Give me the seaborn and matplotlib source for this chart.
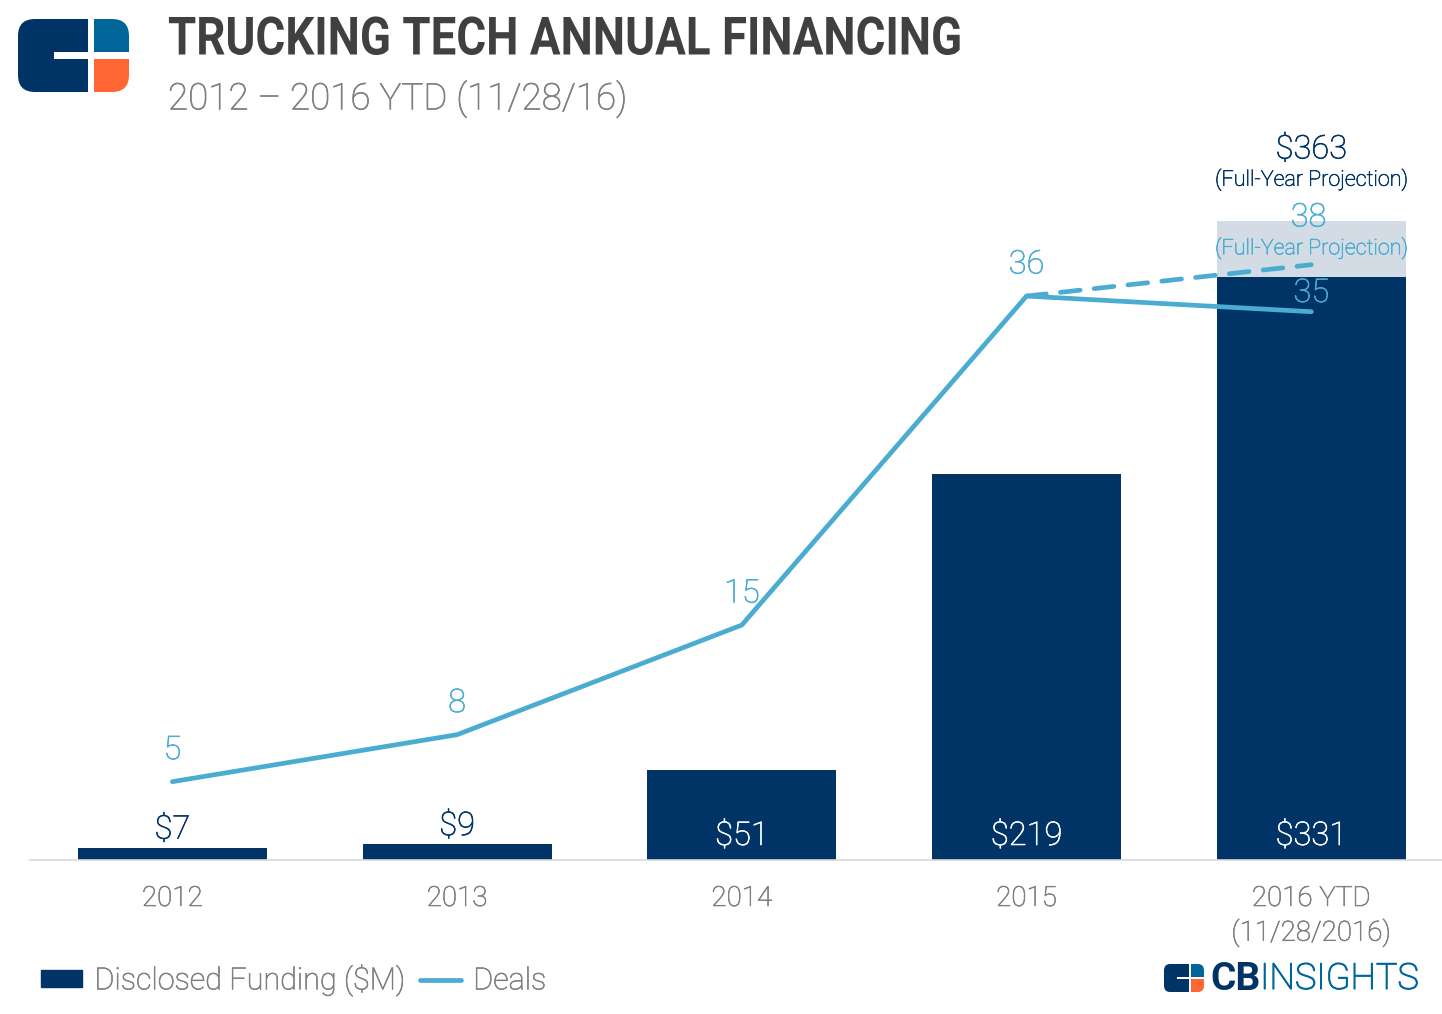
import numpy as np
import pandas as pd
import seaborn as sns
import matplotlib.pyplot as plt
import matplotlib.patheffects as pe
from matplotlib.lines import Line2D
from matplotlib.patches import FancyBboxPatch, Patch, Rectangle
from matplotlib.transforms import Affine2D

# data
years = ["2012", "2013", "2014", "2015", "2016 YTD\n(11/28/2016)"]
funding = [7, 9, 51, 219, 331]
funding_projected = [0, 0, 0, 0, 363]
deals = [5, 8, 15, 36, 35]
deals_projected_years = [3, 4]
deals_projected = [36, 38]
funding_labels = ["$7", "$9", "$51", "$219", "$331"]
deal_labels = ["5", "8", "15", "36", "35"]

NAVY = "#003366"
BLUE = "#4BACD2"
LIGHT = "#D3DBE4"
GRAY = "#7F7F7F"

sns.set_style("white")
plt.rcParams["font.family"] = ["Roboto", "DejaVu Sans"]

W, H = 1442, 1014
fig = plt.figure(figsize=(W / 100, H / 100), dpi=100)


def thicker(color, width=0.45):
    # Roboto Light comes out thinner than in the original, add a small stroke
    return [pe.withStroke(linewidth=width, foreground=color)]


class Squeeze(pe.AbstractPathEffect):
    # narrows a text horizontally, there is no condensed Roboto installed
    def __init__(self, x0, sx):
        super().__init__()
        self.x0 = x0
        self.sx = sx

    def draw_path(self, renderer, gc, tpath, affine, rgbFace=None):
        squeeze = Affine2D().translate(-self.x0, 0).scale(self.sx, 1).translate(self.x0, 0)
        renderer.draw_path(gc, tpath, affine + squeeze, rgbFace)


# axes in pixels: baseline at y=860, top at y=130
ax = fig.add_axes([30 / W, 1 - 860 / H, (W - 30) / W, 730 / H])

df = pd.DataFrame({"year": years, "funding": funding, "projected": funding_projected})
sns.barplot(data=df, x="year", y="projected", color=LIGHT, saturation=1, width=0.664, linewidth=0, ax=ax)
sns.barplot(data=df, x="year", y="funding", color=NAVY, saturation=1, width=0.664, linewidth=0, ax=ax)
ax.set_xlim(-0.5, 4.459)
ax.set_ylim(0, 414.5)
ax.set_xlabel("")
ax.set_ylabel("")
ax.set_yticks([])
ax.tick_params(axis="x", length=0, pad=18, labelsize=20, labelcolor=GRAY)
for lab in ax.get_xticklabels():
    lab.set_fontweight("light")
    lab.set_linespacing(1.3)
    lab.set_path_effects(thicker(GRAY))
for side in ["top", "left", "right"]:
    ax.spines[side].set_visible(False)
ax.spines["bottom"].set_color("#D9D9D9")
ax.spines["bottom"].set_linewidth(1.2)

# deals on a second axis
ax2 = ax.twinx()
ax2.set_ylim(0, 46.6)
ax2.set_yticks([])
ax2.axis("off")
sns.lineplot(x=deals_projected_years, y=deals_projected, color=BLUE, lw=3.4,
             dashes=(4.2, 3.0), ax=ax2, legend=False, dash_capstyle="round")
sns.lineplot(x=np.arange(5), y=deals, color=BLUE, lw=3.4, ax=ax2, legend=False,
             solid_capstyle="round")


# value labels
def label(axis, text, xy, offset, size, color):
    axis.annotate(text, xy, xytext=offset, textcoords="offset points", fontsize=size, color=color,
                  ha="center", va="center", fontweight="light", path_effects=thicker(color))


for i, lab in enumerate(funding_labels):
    if i < 2:
        label(ax, lab, (i, funding[i]), (0, 13), 23.5, NAVY)
    else:
        label(ax, lab, (i, 0), (0, 17.3), 23.5, "white")
for i, lab in enumerate(deal_labels):
    label(ax2, lab, (i, deals[i]), (0, 13.5 if i == 4 else 22.7), 23.5, BLUE)
label(ax, "$363", (4, funding_projected[4]), (0, 51.3), 23.5, NAVY)
label(ax, "(Full-Year Projection)", (4, funding_projected[4]), (0, 29.7), 15.5, NAVY)
label(ax2, "38", (4, deals_projected[1]), (-2, 34), 23.5, BLUE)
label(ax2, "(Full-Year Projection)", (4, deals_projected[1]), (0, 12), 15.5, BLUE)

# title
fig.text(168 / W, 1 - 40 / H, "TRUCKING TECH ANNUAL FINANCING", fontsize=38, color="#404040",
         fontweight="bold", va="center", ha="left", path_effects=[Squeeze(168, 0.865)])
fig.text(168 / W, 1 - 99 / H, "2012 – 2016 YTD (11/28/16)", fontsize=26.5, color=GRAY,
         fontweight="light", va="center", ha="left", path_effects=thicker(GRAY))

# legend
handles = [Patch(color=NAVY), Line2D([0], [0], color=BLUE, lw=3.4, solid_capstyle="round")]
leg = fig.legend(handles, ["Disclosed Funding ($M)", "Deals"], loc="center left",
                 bbox_to_anchor=(41 / W, 1 - 980 / H), ncol=2, frameon=False,
                 prop={"size": 22, "weight": "light"}, labelcolor=GRAY, borderpad=0, borderaxespad=0,
                 handlelength=1.35, handleheight=0.5, handletextpad=0.4, columnspacing=0.5)
for t in leg.get_texts():
    t.set_path_effects(thicker(GRAY))


def draw_logo(x, y, w, h):
    # logo on its own little axes, pixel box x,y,w,h
    lax = fig.add_axes([x / W, 1 - (y + h) / H, w / W, h / H])
    lax.set_xlim(0, 111)
    lax.set_ylim(73, 0)
    lax.axis("off")
    clip = FancyBboxPatch((0, 0), 111, 73, boxstyle="round,pad=0,rounding_size=17",
                          transform=lax.transData, fc="none", ec="none")
    lax.add_patch(clip)
    parts = [(0, 0, 70, 73, NAVY), (76, 0, 35, 33, "#006699"), (76, 40, 35, 33, "#FF6633")]
    for px, py, pw, ph, c in parts:
        r = Rectangle((px, py), pw, ph, fc=c, ec="none")
        lax.add_patch(r)
        r.set_clip_path(clip)
    lax.add_patch(Rectangle((36, 33), 40, 7, fc="white", ec="none"))


draw_logo(18, 19, 111, 73)
draw_logo(1164, 964, 40, 28)

# wordmark bottom right
fig.text(1210 / W, 1 - 979 / H, "CB", fontsize=28, fontweight="bold", color=NAVY, va="center")
fig.text(1260 / W, 1 - 979 / H, "INSIGHTS", fontsize=26, fontweight="light", color="#006699",
         va="center", path_effects=thicker("#006699", 0.8))

fig.savefig("out.png", dpi=100)
